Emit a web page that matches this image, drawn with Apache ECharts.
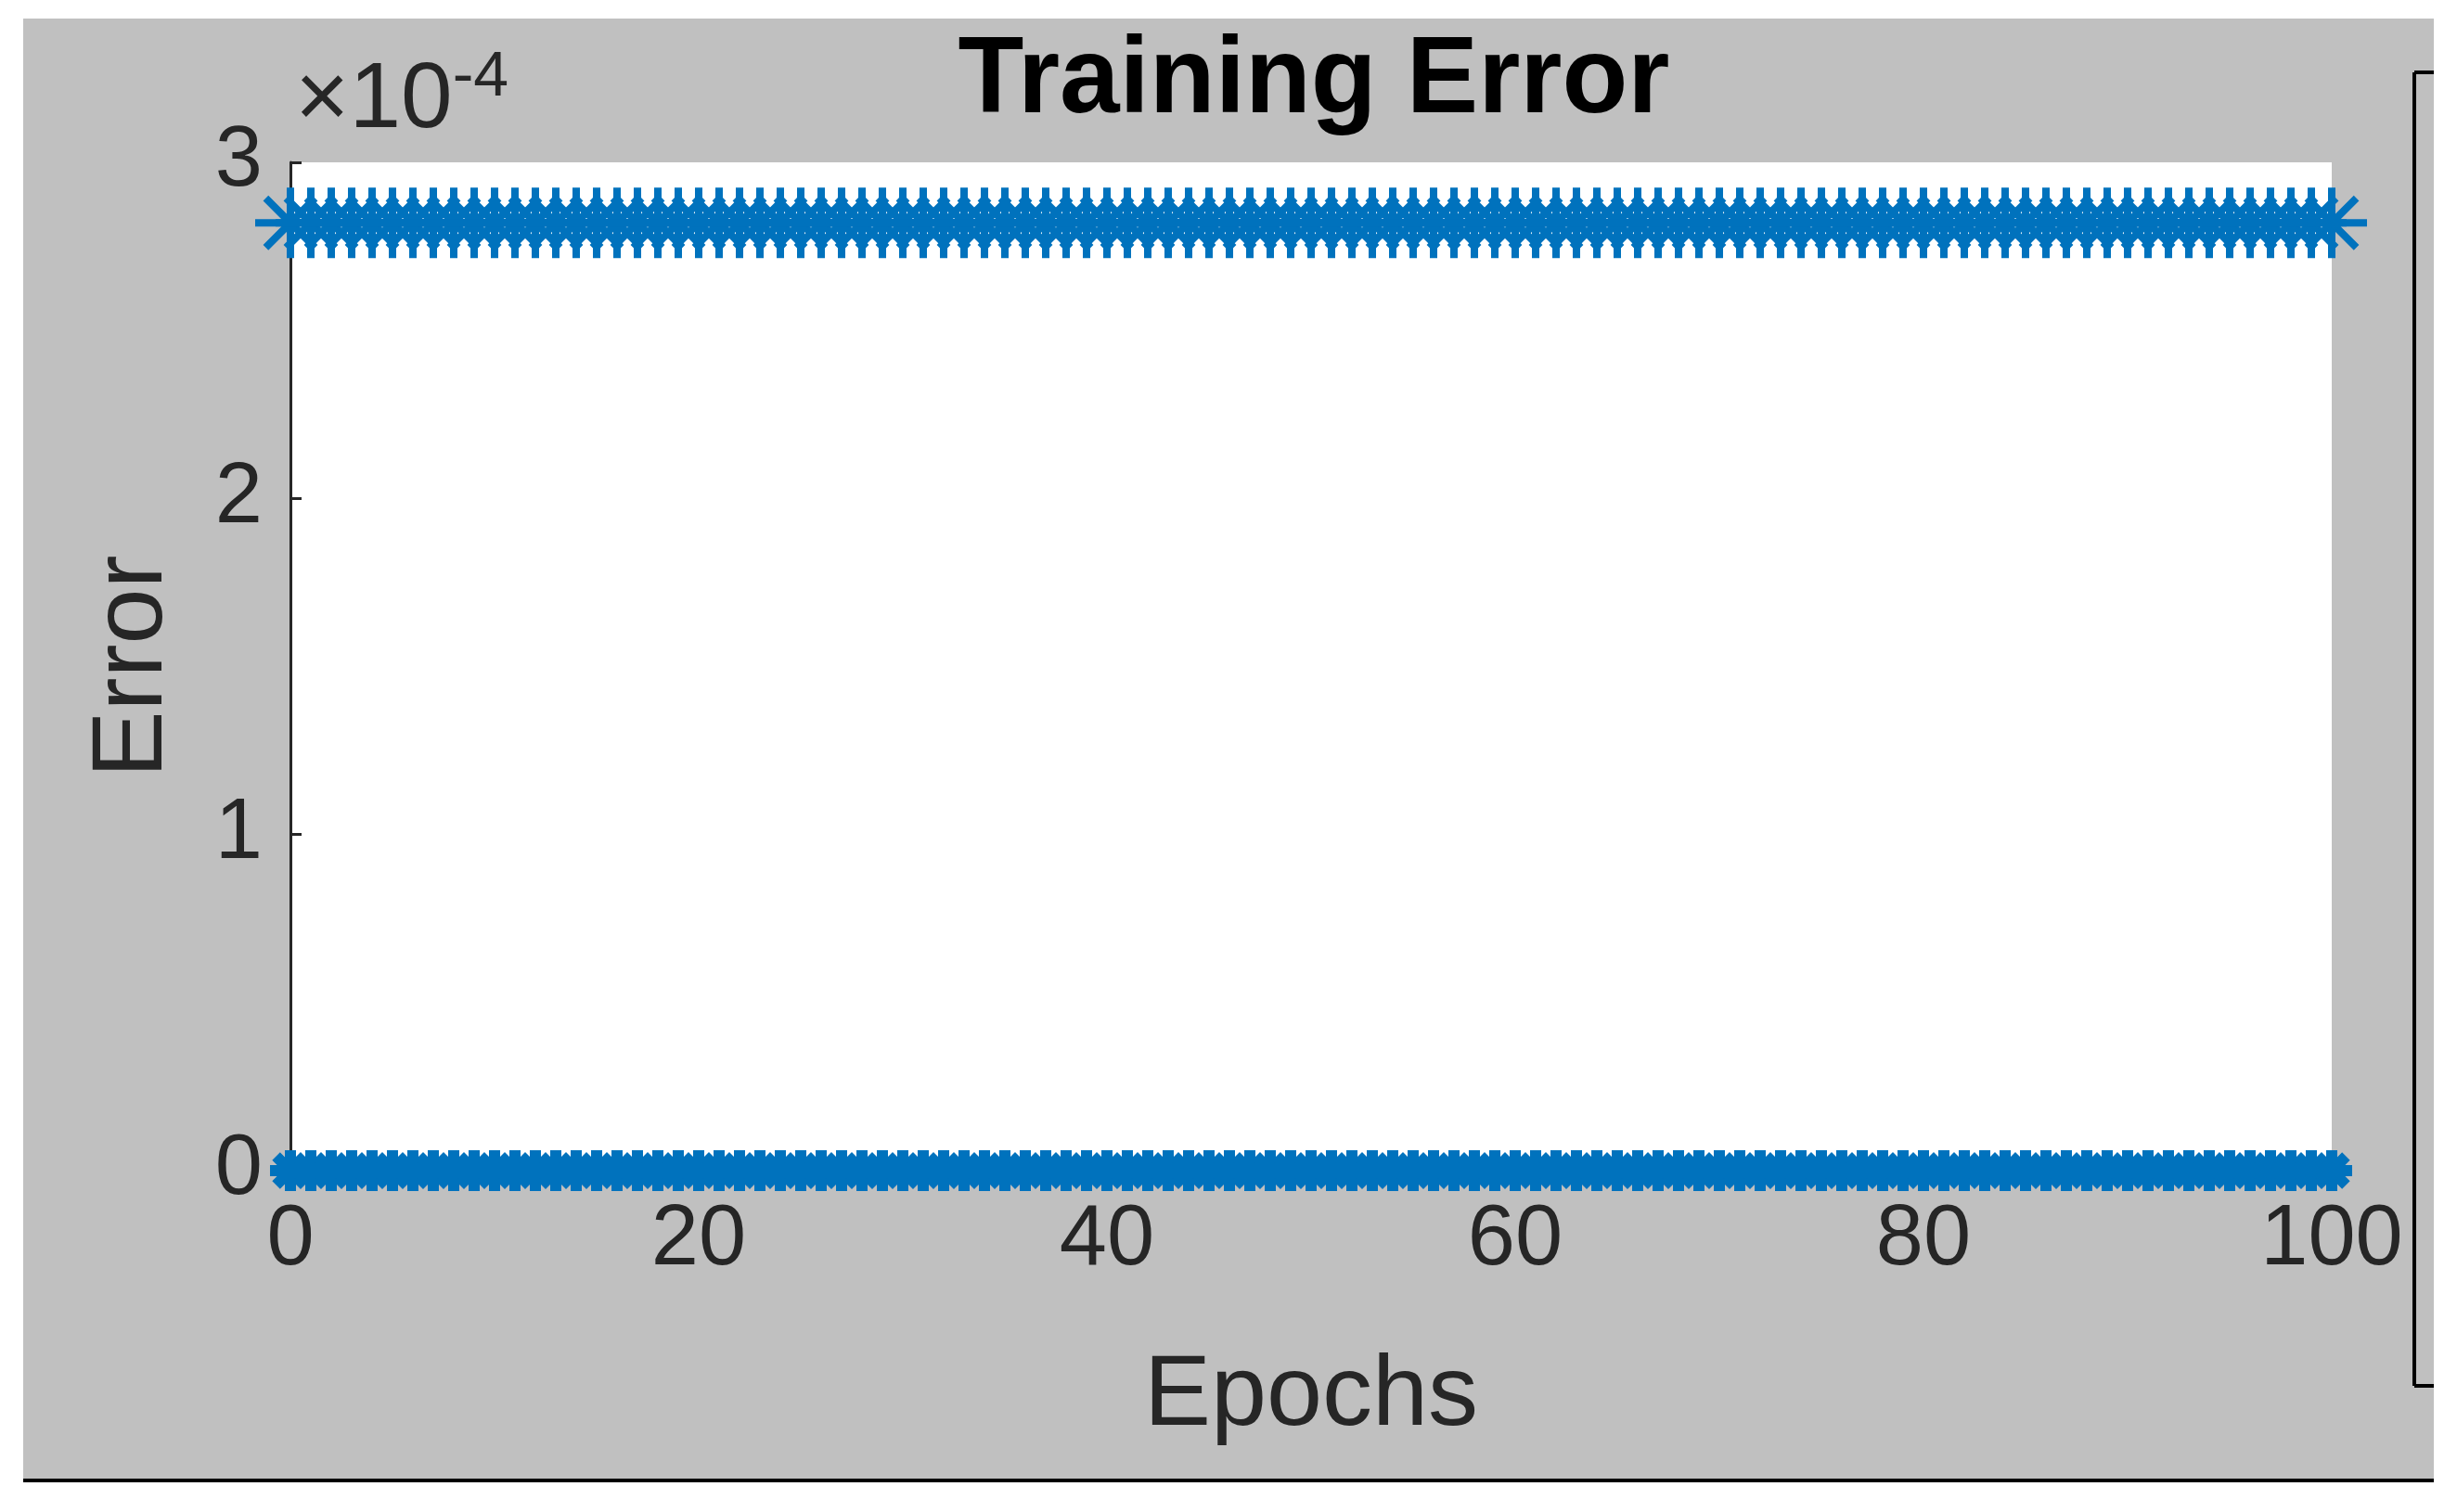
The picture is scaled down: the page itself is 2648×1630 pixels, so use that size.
<!DOCTYPE html>
<html>
<head>
<meta charset="utf-8">
<script src="https://cdn.jsdelivr.net/npm/echarts@6/dist/echarts.min.js"></script>
<style>html,body{margin:0;padding:0;background:#fff;}#chart{width:2648px;height:1630px;}</style>
</head>
<body>
<div id="chart"></div>
<script>
const epochs = [0,1,2,3,4,5,6,7,8,9,10,11,12,13,14,15,16,17,18,19,20,21,22,23,24,25,26,27,28,29,30,31,32,33,34,35,36,37,38,39,40,41,42,43,44,45,46,47,48,49,50,51,52,53,54,55,56,57,58,59,60,61,62,63,64,65,66,67,68,69,70,71,72,73,74,75,76,77,78,79,80,81,82,83,84,85,86,87,88,89,90,91,92,93,94,95,96,97,98,99,100];
const upperError = [2.82e-4,2.82e-4,2.82e-4,2.82e-4,2.82e-4,2.82e-4,2.82e-4,2.82e-4,2.82e-4,2.82e-4,2.82e-4,2.82e-4,2.82e-4,2.82e-4,2.82e-4,2.82e-4,2.82e-4,2.82e-4,2.82e-4,2.82e-4,2.82e-4,2.82e-4,2.82e-4,2.82e-4,2.82e-4,2.82e-4,2.82e-4,2.82e-4,2.82e-4,2.82e-4,2.82e-4,2.82e-4,2.82e-4,2.82e-4,2.82e-4,2.82e-4,2.82e-4,2.82e-4,2.82e-4,2.82e-4,2.82e-4,2.82e-4,2.82e-4,2.82e-4,2.82e-4,2.82e-4,2.82e-4,2.82e-4,2.82e-4,2.82e-4,2.82e-4,2.82e-4,2.82e-4,2.82e-4,2.82e-4,2.82e-4,2.82e-4,2.82e-4,2.82e-4,2.82e-4,2.82e-4,2.82e-4,2.82e-4,2.82e-4,2.82e-4,2.82e-4,2.82e-4,2.82e-4,2.82e-4,2.82e-4,2.82e-4,2.82e-4,2.82e-4,2.82e-4,2.82e-4,2.82e-4,2.82e-4,2.82e-4,2.82e-4,2.82e-4,2.82e-4,2.82e-4,2.82e-4,2.82e-4,2.82e-4,2.82e-4,2.82e-4,2.82e-4,2.82e-4,2.82e-4,2.82e-4,2.82e-4,2.82e-4,2.82e-4,2.82e-4,2.82e-4,2.82e-4,2.82e-4,2.82e-4,2.82e-4,2.82e-4];
const lowerError = [0,0,0,0,0,0,0,0,0,0,0,0,0,0,0,0,0,0,0,0,0,0,0,0,0,0,0,0,0,0,0,0,0,0,0,0,0,0,0,0,0,0,0,0,0,0,0,0,0,0,0,0,0,0,0,0,0,0,0,0,0,0,0,0,0,0,0,0,0,0,0,0,0,0,0,0,0,0,0,0,0,0,0,0,0,0,0,0,0,0,0,0,0,0,0,0,0,0,0,0,0];

const font = '"Liberation Sans", Arial, sans-serif';
const blue = '#0072BD';
const star = 'path://M0 -10 L0 10 M-10 0 L10 0 M-7 -7 L7 7 M-7 7 L7 -7';

const chart = echarts.init(document.getElementById('chart'));
chart.setOption({
  animation: false,
  backgroundColor: '#fff',
  textStyle: { fontFamily: font },
  graphic: [
    { type: 'rect', z: -10, shape: { x: 25, y: 20, width: 2598, height: 1576 }, style: { fill: '#c0c0c0' } },
    { type: 'line', shape: { x1: 25, y1: 1596, x2: 2623, y2: 1596 }, style: { stroke: '#000', lineWidth: 4 } },
    { type: 'line', shape: { x1: 2602, y1: 78, x2: 2602, y2: 1494 }, style: { stroke: '#000', lineWidth: 4 } },
    { type: 'line', shape: { x1: 2602, y1: 78, x2: 2623, y2: 78 }, style: { stroke: '#000', lineWidth: 4 } },
    { type: 'line', shape: { x1: 2602, y1: 1494, x2: 2623, y2: 1494 }, style: { stroke: '#000', lineWidth: 4 } },
    { type: 'text', left: 318, top: 50, style: {
      text: '{a|×10}{b|-4}', fill: '#262626',
      rich: { a: { fontSize: 100, fontFamily: font, fill: '#262626' }, b: { fontSize: 68, fontFamily: font, fill: '#262626', verticalAlign: 'top', padding: [0, 0, 50, 0] } }
    } }
  ],
  title: {
    text: 'Training Error', left: 1411, top: 26, textAlign: 'center',
    textStyle: { fontSize: 116, fontWeight: 'bold', color: '#000', fontFamily: font }
  },
  grid: { left: 313, right: 135, top: 175, bottom: 368, show: true, backgroundColor: '#fff', borderWidth: 0 },
  xAxis: {
    type: 'value', min: 0, max: 100, interval: 20,
    name: 'Epochs', nameLocation: 'middle', nameGap: 190,
    nameTextStyle: { fontSize: 108, color: '#262626', fontFamily: font },
    axisLine: { show: true, lineStyle: { color: '#262626', width: 3 } },
    axisTick: { inside: true, length: 12, lineStyle: { color: '#262626', width: 3 } },
    axisLabel: { fontSize: 92, color: '#262626', margin: 30, fontFamily: font },
    splitLine: { show: false }
  },
  yAxis: {
    type: 'value', min: 0, max: 3e-4, interval: 1e-4,
    name: 'Error', nameLocation: 'middle', nameGap: 115,
    nameTextStyle: { fontSize: 108, color: '#262626', fontFamily: font },
    axisLine: { show: true, lineStyle: { color: '#262626', width: 3 } },
    axisTick: { inside: true, length: 12, lineStyle: { color: '#262626', width: 3 } },
    axisLabel: { fontSize: 92, color: '#262626', margin: 30, fontFamily: font, formatter: v => String(Math.round(v * 1e4)) },
    splitLine: { show: false }
  },
  series: [
    {
      type: 'scatter', clip: false, symbol: star, symbolSize: 76,
      data: epochs.map((e, i) => [e, upperError[i]]),
      itemStyle: { color: 'none', borderColor: blue, borderWidth: 8, opacity: 1 }
    },
    {
      type: 'scatter', clip: false, symbol: star, symbolSize: 44,
      data: epochs.map((e, i) => [e, lowerError[i]]),
      itemStyle: { color: 'none', borderColor: blue, borderWidth: 12, opacity: 1 }
    }
  ]
});
</script>
</body>
</html>
